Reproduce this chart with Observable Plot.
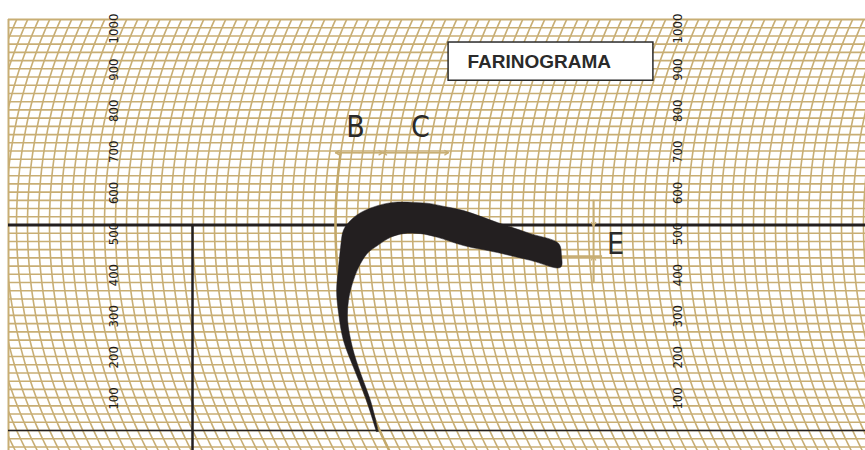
<!DOCTYPE html>
<html><head><meta charset="utf-8">
<script src="https://cdn.jsdelivr.net/npm/d3@7"></script>
<script src="https://cdn.jsdelivr.net/npm/@observablehq/plot@0.6"></script>
<style>body{margin:0;background:#fff} #chart svg{display:block;background:#fff}</style>
</head><body><div id="chart"></div>
<script>
// ---- data (time in minutes, consistency in Brabender units) ----
const yTickLabels = [100, 200, 300, 400, 500, 600, 700, 800, 900, 1000];
const labelColumnsTime = [-3.59, 22.05];
// outline of the farinogram band (outer edge up, then inner edge back down)
const curveTime = [8.36,7.86,7.32,6.86,6.64,6.55,6.64,6.73,6.86,7.18,7.64,8.41,9.14,10.05,10.82,11.27,12.32,13.86,15.36,16.64,16.77,16.73,15.36,13.86,12.32,11.14,10.36,9.59,9.00,8.41,7.95,7.55,7.27,7.09,7.05,7.27,7.64,8.09,8.45];
const curveBU   = [-3,80,153,219,285,341,397,445,487,511,530,547,555,555,552,547,535,506,479,455,426,397,414,433,450,470,479,479,470,450,431,397,358,316,268,202,139,73,-3];
// annotation positions
const bracketBU = 676;
const bracketB = [6.5, 8.65];
const bracketC = [8.65, 11.64];
const letters = [
  {label: "B", t: 7.41, v: 737},
  {label: "C", t: 10.36, v: 737},
  {label: "E", t: 19.23, v: 452}
];
const dropE = {t: 18.23, top: 560, line: 497, end: 424, bottom: 360, t1: 16.73, t2: 18.64};
const titleBox = {label: "FARINOGRAMA", t1: 11.64, t2: 20.95, v1: 851, v2: 944, tText: 12.5, vText: 896};

// ---- chart geometry ----
const W = 865, H = 450;
const xDomain = [-8.364, 30.591];
const yDomain = [-48.66, 1000];
const pxPerBU = 431 / (yDomain[1] - yDomain[0]);
const pxPerMin = 22, R = 500, refBU = 500;
const tan = "#c8ae74", ink = "#231f20", txt = "#2a2a2a";

// recorder arcs (vertical grid lines of the chart paper)
function arc(t0, vFrom, vTo) {
  return d3.range(vFrom, vTo + 0.1, 5).map(v => {
    const dy = (v - refBU) * pxPerBU;
    const d = R - Math.sqrt(R * R - dy * dy);
    return {t0, t: t0 + d / pxPerMin, v};
  });
}
const arcs = d3.range(-12, 31.01, 0.5).flatMap(t0 => arc(t0, -50, 1000));
const arcB = arc(bracketB[0], -50, bracketBU);
const curve = curveTime.map((t, i) => ({t, v: curveBU[i]}));

const chart = Plot.plot({
  width: W, height: H,
  marginLeft: 8, marginRight: 0, marginTop: 19, marginBottom: 0,
  x: {domain: xDomain, axis: null},
  y: {domain: yDomain, axis: null},
  marks: [
    Plot.ruleY(d3.range(-40, 1000, 20), {stroke: tan, strokeWidth: 1.6}),
    Plot.line(arcs, {x: "t", y: "v", z: "t0", stroke: tan, strokeWidth: 1.6, clip: "frame"}),
    Plot.ruleY([1000], {stroke: tan, strokeWidth: 2}),
    Plot.ruleX([xDomain[0]], {stroke: tan, strokeWidth: 2}),
    // reference lines
    Plot.ruleY([refBU], {stroke: ink, strokeWidth: 3}),
    Plot.ruleY([0], {stroke: ink, strokeWidth: 1.5}),
    Plot.ruleX([0], {y1: refBU, y2: yDomain[0], stroke: ink, strokeWidth: 2.5}),
    // B / C annotation
    Plot.line(arcB, {x: "t", y: "v", stroke: "#c4a96a", strokeWidth: 2.5, clip: "frame"}),
    Plot.ruleY([bracketBU], {x1: bracketB[0], x2: bracketC[1], stroke: tan, strokeWidth: 1.5}),
    Plot.arrow([bracketB, bracketC].flatMap(([a, b]) => [
      {x1: (a + b) / 2, x2: a}, {x1: (a + b) / 2, x2: b}
    ]), {x1: "x1", x2: "x2", y1: bracketBU, y2: bracketBU, stroke: tan, strokeWidth: 1.3, headLength: 5, inset: 0}),
    // E annotation
    Plot.ruleX([dropE.t], {y1: dropE.top, y2: dropE.bottom, stroke: tan, strokeWidth: 2}),
    Plot.ruleY([dropE.end], {x1: dropE.t1, x2: dropE.t2, stroke: tan, strokeWidth: 2}),
    Plot.arrow([{y1: dropE.top, y2: dropE.line}, {y1: dropE.bottom, y2: dropE.end}],
      {x1: dropE.t, x2: dropE.t, y1: "y1", y2: "y2", stroke: tan, strokeWidth: 1.3, headLength: 5, inset: 0}),
    // farinogram band
    Plot.line(curve, {x: "t", y: "v", fill: ink, stroke: ink, strokeWidth: 0.5, curve: "catmull-rom"}),
    // scale labels
    Plot.text(labelColumnsTime.flatMap(t => yTickLabels.map(v => ({t, v}))), {
      x: "t", y: d => d.v - 22, text: d => String(d.v), rotate: -90,
      fontSize: 13, fontFamily: "DejaVu Sans Condensed, DejaVu Sans", fill: "#1c1c1c"
    }),
    Plot.text(letters, {x: "t", y: "v", text: "label", fontSize: 30,
      fontFamily: "DejaVu Sans Condensed, DejaVu Sans", fill: txt}),
    // title box
    Plot.rect([titleBox], {x1: "t1", x2: "t2", y1: "v1", y2: "v2", fill: "white", stroke: txt, strokeWidth: 1.5}),
    Plot.text([titleBox], {x: "tText", y: "vText", text: "label", textAnchor: "start",
      fontWeight: "bold", fontSize: 19, fontFamily: "Liberation Sans", fill: txt})
  ]
});
document.getElementById("chart").append(chart);
</script>
</body></html>
